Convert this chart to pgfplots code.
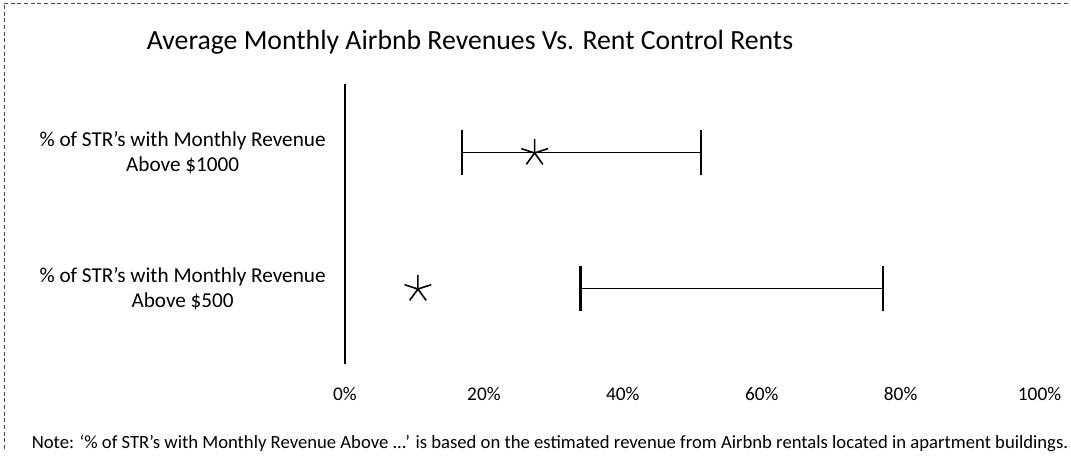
\documentclass[border=0pt]{standalone}
\usepackage{fontspec}
\setmainfont{Carlito}
\usepackage{pgfplots}
\pgfplotsset{compat=1.18}
\begin{document}
\begin{tikzpicture}[x=0.75pt,y=0.75pt]
\path[use as bounding box] (0,0) rectangle (1071,458);
\draw[black!70, densely dashed, line width=0.5pt] (4,453) -- (4,8);
\draw[black!70, densely dashed, line width=0.5pt] (4,455) -- (1068,455);
\node[font=\fontsize{20.8}{24}\selectfont] at (470,458-42) {Average Monthly Airbnb Revenues Vs. Rent Control Rents};
\node[font=\fontsize{14}{16}\selectfont] at (550,458-443) {Note: `\% of STR's with Monthly Revenue Above ...' is based on the estimated revenue from Airbnb rentals located in apartment buildings.};
\begin{axis}[
  at={(258.75pt,70.5pt)}, anchor=south west,
  width=520.9pt, height=210pt, scale only axis,
  xmin=0, xmax=100, ymin=-0.551, ymax=1.507,
  axis x line=none,
  axis y line*=left,
  x axis line style={draw=none},
  y axis line style={-, line width=0.9pt},
  hide x axis=false,
  xtick={0,20,40,60,80,100},
  xticklabels={0\%,20\%,40\%,60\%,80\%,100\%},
  ytick={0,1},
  yticklabels={{\% of STR's with Monthly Revenue\\Above \$500},{\% of STR's with Monthly Revenue\\Above \$1000}},
  yticklabel style={align=center, font=\fontsize{15.9}{18.75}\selectfont, xshift=-11pt},
  xticklabel style={font=\fontsize{14.5}{16}\selectfont, text height=1.5ex, text depth=0.25ex, yshift=-17pt},
  major tick length=0pt,
  clip=false,
]
\addplot[draw=none, mark=none,
  error bars/.cd, x dir=both, x explicit,
  error mark=|, error mark options={draw=black, line width=1.6pt, mark size=17pt},
  error bar style={draw=black, line width=0.6pt}]
  table[x=x, y=y, x error=e] {
x y e
34.0 1.0015 17.2
55.7 0.0015 21.8
};
\addplot[only marks, mark=star, mark size=10.5pt, mark options={line width=1.2pt, draw=black}]
  coordinates {(27.3,1) (10.5,0)};
\end{axis}
\end{tikzpicture}
\end{document}
